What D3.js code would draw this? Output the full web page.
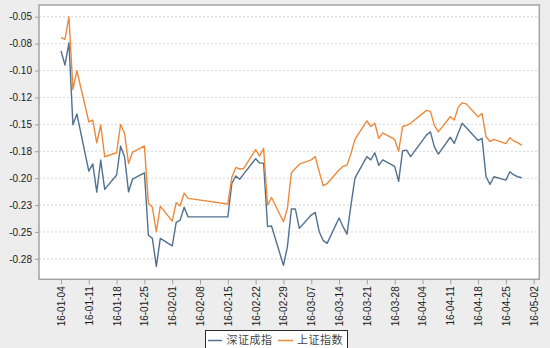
<!DOCTYPE html>
<html>
<head>
<meta charset="utf-8">
<script src="https://cdn.jsdelivr.net/npm/d3@7"></script>
<style>
  html, body { margin: 0; padding: 0; background: #ededed; }
  svg { display: block; }
  text { font-family: "Liberation Sans", Arial, sans-serif; }
</style>
</head>
<body>
<svg id="chart" width="550" height="348"></svg>
<script>
// Trading days, Jan–Apr 2016
const dates = [
  "2016-01-04","2016-01-05","2016-01-06","2016-01-07","2016-01-08",
  "2016-01-11","2016-01-12","2016-01-13","2016-01-14","2016-01-15",
  "2016-01-18","2016-01-19","2016-01-20","2016-01-21","2016-01-22",
  "2016-01-25","2016-01-26","2016-01-27","2016-01-28","2016-01-29",
  "2016-02-01","2016-02-02","2016-02-03","2016-02-04","2016-02-05",
  "2016-02-15","2016-02-16","2016-02-17","2016-02-18","2016-02-19",
  "2016-02-22","2016-02-23","2016-02-24","2016-02-25","2016-02-26",
  "2016-02-29","2016-03-01","2016-03-02","2016-03-03","2016-03-04",
  "2016-03-07","2016-03-08","2016-03-09","2016-03-10","2016-03-11",
  "2016-03-14","2016-03-15","2016-03-16","2016-03-17","2016-03-18",
  "2016-03-21","2016-03-22","2016-03-23","2016-03-24","2016-03-25",
  "2016-03-28","2016-03-29","2016-03-30","2016-03-31","2016-04-01",
  "2016-04-05","2016-04-06","2016-04-07","2016-04-08",
  "2016-04-11","2016-04-12","2016-04-13","2016-04-14","2016-04-15",
  "2016-04-18","2016-04-19","2016-04-20","2016-04-21","2016-04-22",
  "2016-04-25","2016-04-26","2016-04-27","2016-04-28","2016-04-29"
];

// 深证成指
const szValues = [
  -0.0817,-0.0949,-0.0742,-0.1505,-0.1404,
  -0.1935,-0.1868,-0.2130,-0.1832,-0.2104,
  -0.1971,-0.1703,-0.1801,-0.2128,-0.2010,
  -0.1950,-0.2530,-0.2560,-0.2820,-0.2560,
  -0.2630,-0.2410,-0.2390,-0.2270,-0.2360,
  -0.2360,-0.2050,-0.1980,-0.2010,-0.1960,
  -0.1820,-0.1860,-0.1860,-0.2450,-0.2445,
  -0.2810,-0.2638,-0.2287,-0.2287,-0.2467,
  -0.2343,-0.2318,-0.2498,-0.2580,-0.2606,
  -0.2370,-0.2450,-0.2520,-0.2250,-0.2000,
  -0.1800,-0.1830,-0.1764,-0.1880,-0.1830,
  -0.1890,-0.2030,-0.1745,-0.1740,-0.1800,
  -0.1600,-0.1570,-0.1710,-0.1776,
  -0.1620,-0.1677,-0.1580,-0.1490,-0.1530,
  -0.1650,-0.1630,-0.1987,-0.2058,-0.1987,
  -0.2018,-0.1940,-0.1970,-0.1987,-0.1996
];

// 上证指数
const shValues = [
  -0.0695,-0.0710,-0.0500,-0.1175,-0.1001,
  -0.1476,-0.1460,-0.1672,-0.1506,-0.1801,
  -0.1764,-0.1500,-0.1583,-0.1863,-0.1760,
  -0.1700,-0.2234,-0.2271,-0.2498,-0.2260,
  -0.2399,-0.2228,-0.2258,-0.2140,-0.2188,
  -0.2240,-0.1993,-0.1900,-0.1915,-0.1910,
  -0.1735,-0.1795,-0.1723,-0.2250,-0.2180,
  -0.2405,-0.2281,-0.1950,-0.1910,-0.1870,
  -0.1830,-0.1800,-0.1940,-0.2070,-0.2050,
  -0.1925,-0.1890,-0.1880,-0.1770,-0.1640,
  -0.1467,-0.1520,-0.1490,-0.1630,-0.1580,
  -0.1640,-0.1750,-0.1520,-0.1510,-0.1490,
  -0.1370,-0.1380,-0.1510,-0.1570,
  -0.1430,-0.1460,-0.1340,-0.1300,-0.1310,
  -0.1430,-0.1400,-0.1615,-0.1660,-0.1640,
  -0.1680,-0.1625,-0.1655,-0.1670,-0.1695
];

const seriesNames = ["深证成指", "上证指数"];
const seriesColors = ["#52708f", "#ec8a3c"];

const yTickValues = [-0.05, -0.075, -0.10, -0.125, -0.15, -0.175, -0.20, -0.225, -0.25, -0.275];
const yTickLabels = ["-0.05", "-0.08", "-0.10", "-0.12", "-0.15", "-0.18", "-0.20", "-0.23", "-0.25", "-0.28"];

const xTickStart = "2016-01-04";
const xTickEnd = "2016-05-02";

const parse = d3.timeParse("%Y-%m-%d");
const fmt = d3.timeFormat("%y-%m-%d");

const svg = d3.select("#chart");

// plot frame
const frame = { left: 39, top: 5, right: 539.3, bottom: 279.3 };

const x = d3.scaleTime()
  .domain([parse(xTickStart), parse(xTickEnd)])
  .range([61, 533.7]);

const y = d3.scaleLinear()
  .domain([-0.294, -0.0391])
  .range([frame.bottom, frame.top]);

svg.append("rect")
  .attr("x", frame.left).attr("y", frame.top)
  .attr("width", frame.right - frame.left)
  .attr("height", frame.bottom - frame.top)
  .attr("fill", "#ffffff");

// horizontal dashed grid
svg.append("g")
  .selectAll("line")
  .data(yTickValues)
  .join("line")
  .attr("x1", frame.left).attr("x2", frame.right)
  .attr("y1", d => y(d)).attr("y2", d => y(d))
  .attr("stroke", "#d4d4d4")
  .attr("stroke-width", 1)
  .attr("stroke-dasharray", "2,2");

// y axis
const yAxis = svg.append("g")
  .attr("transform", `translate(${frame.left},0)`)
  .call(d3.axisLeft(y)
    .tickValues(yTickValues)
    .tickFormat((d, i) => yTickLabels[i])
    .tickSize(4)
    .tickPadding(3));
yAxis.select(".domain").remove();
yAxis.selectAll(".tick line").attr("stroke", "#a0a0a0");
yAxis.selectAll(".tick text")
  .attr("fill", "#1a1a1a")
  .style("font-size", "10px");

// x axis with weekly ticks
const weekTicks = d3.timeMonday.range(parse(xTickStart), d3.timeDay.offset(parse(xTickEnd), 1));
const xAxis = svg.append("g")
  .attr("transform", `translate(0,${frame.bottom})`)
  .call(d3.axisBottom(x)
    .tickValues(weekTicks)
    .tickFormat(fmt)
    .tickSize(5));
xAxis.select(".domain").remove();
xAxis.selectAll(".tick line").attr("stroke", "#a0a0a0");
xAxis.selectAll(".tick text")
  .attr("transform", "rotate(-90)")
  .attr("text-anchor", "end")
  .attr("x", -7)
  .attr("y", 0)
  .attr("dy", "0.35em")
  .attr("fill", "#1a1a1a")
  .style("font-size", "10px");

// frame border
svg.append("rect")
  .attr("x", frame.left).attr("y", frame.top)
  .attr("width", frame.right - frame.left)
  .attr("height", frame.bottom - frame.top)
  .attr("fill", "none")
  .attr("stroke", "#a3a3a3")
  .attr("stroke-width", 1.5);

// series lines
const seriesValues = [szValues, shValues];
const line = d3.line()
  .x(d => x(d.date))
  .y(d => y(d.value));

seriesValues.forEach((vals, k) => {
  const pts = dates.map((d, i) => ({ date: parse(d), value: vals[i] }));
  svg.append("path")
    .datum(pts)
    .attr("d", line)
    .attr("fill", "none")
    .attr("stroke", seriesColors[k])
    .attr("stroke-width", 1.4)
    .attr("stroke-linejoin", "round");
});

// legend
const legend = svg.append("g");
legend.append("rect")
  .attr("x", 205.5).attr("y", 330.5)
  .attr("width", 142).attr("height", 24)
  .attr("fill", "#ffffff")
  .attr("stroke", "#2a2a2a")
  .attr("stroke-width", 1);

const legendItems = [
  { x1: 208, x2: 222, tx: 226.5 },
  { x1: 278, x2: 293, tx: 297 }
];
legendItems.forEach((it, k) => {
  legend.append("line")
    .attr("x1", it.x1).attr("x2", it.x2)
    .attr("y1", 340.5).attr("y2", 340.5)
    .attr("stroke", seriesColors[k])
    .attr("stroke-width", 1.5);
  legend.append("text")
    .attr("x", it.tx).attr("y", 340.5)
    .attr("dy", "0.36em")
    .attr("fill", "#444")
    .style("font-family", "'Noto Sans CJK SC', sans-serif")
    .style("font-size", "11px")
    .style("letter-spacing", "0.5px")
    .text(seriesNames[k]);
});
</script>
</body>
</html>
